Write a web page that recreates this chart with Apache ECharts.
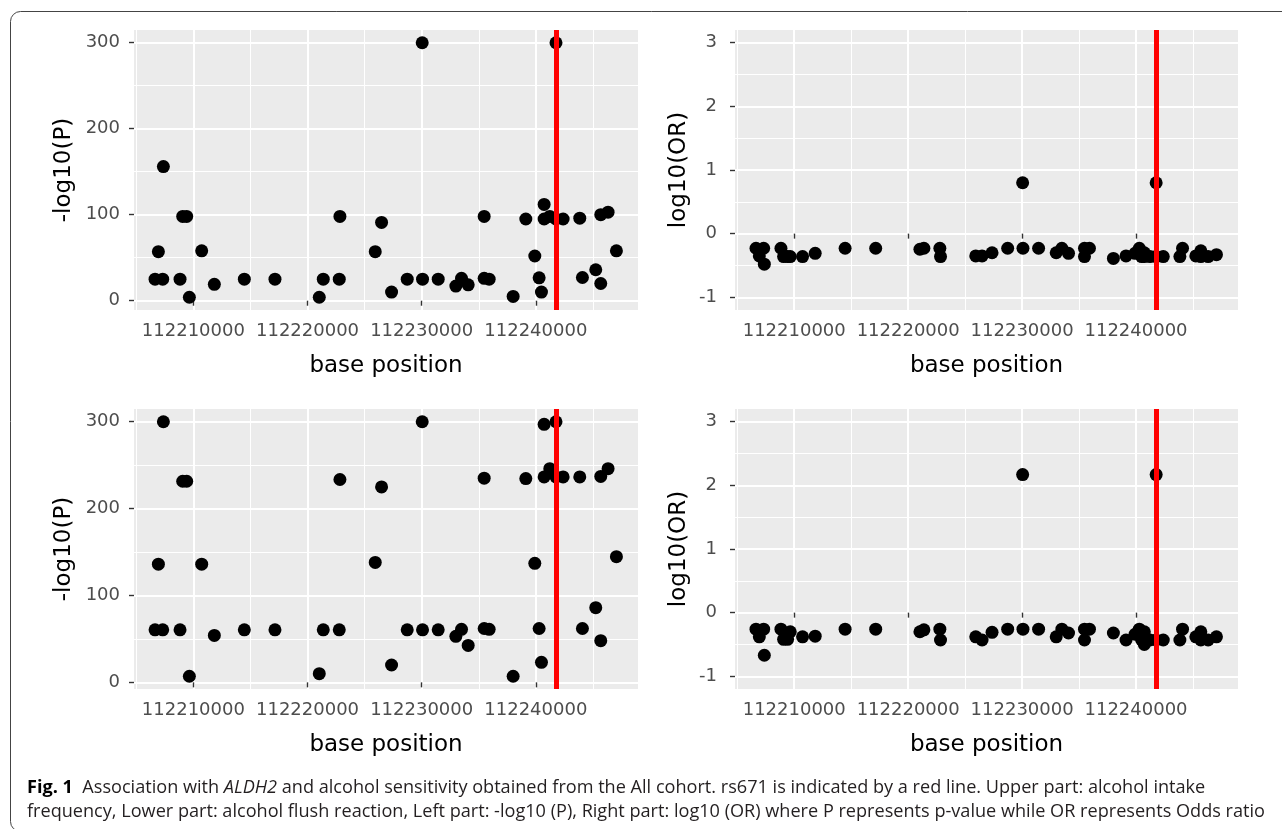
<!DOCTYPE html>
<html>
<head>
<meta charset="utf-8">
<script src="https://cdn.jsdelivr.net/npm/echarts@6/dist/echarts.min.js"></script>
<style>
html,body{margin:0;padding:0;background:#fff;}
#chart{width:1282px;height:829px;}
</style>
</head>
<body>
<div id="chart"></div>
<script>
// ---- data (base positions shared by all four panels) ----
const positions = [
  112206644, 112207315, 112206936, 112207374, 112208833, 112209066, 112209416, 112209650,
  112210730, 112211838, 112214465, 112217149, 112221030, 112221380, 112222839, 112222781,
  112225932, 112226487, 112227362, 112228734, 112230047, 112230076, 112231448, 112232994,
  112233490, 112234074, 112235475, 112235475, 112235912, 112238013, 112239122, 112239910,
  112240289, 112240493, 112240727, 112240727, 112241223, 112241766, 112241766, 112242390,
  112243849, 112244082, 112245249, 112245687, 112245687, 112246329, 112247059
];
// upper part: alcohol intake frequency
const intakeNegLogP = [
  25, 25, 57, 156, 25, 98, 98, 4,
  58, 19, 25, 25, 4, 25, 98, 25,
  57, 91, 10, 25, 300, 25, 25, 17,
  26, 18.5, 98, 26, 25, 5, 95, 52,
  26.6, 10, 112, 95, 98, 300, 95, 95,
  96, 27, 36, 20, 100, 103, 58
];
const intakeLogOR = [
  -0.23, -0.23, -0.35, -0.48, -0.23, -0.36, -0.36, -0.36,
  -0.36, -0.31, -0.23, -0.23, -0.245, -0.23, -0.36, -0.23,
  -0.35, -0.35, -0.30, -0.23, 0.80, -0.23, -0.23, -0.30,
  -0.23, -0.31, -0.36, -0.23, -0.23, -0.39, -0.35, -0.31,
  -0.23, -0.36, -0.36, -0.30, -0.36, 0.80, -0.36, -0.36,
  -0.36, -0.23, -0.35, -0.27, -0.36, -0.36, -0.33
];
// lower part: alcohol flush reaction
const flushNegLogP = [
  60.5, 60.5, 136, 300, 60.5, 231.5, 231.5, 7,
  136, 54, 60.5, 60.5, 10, 60.5, 233.5, 60.5,
  138, 225, 20, 60.5, 300, 60.5, 60.5, 53,
  61, 42.5, 235, 62, 61, 7, 234.6, 137,
  62, 23, 297, 236.5, 246, 300, 236.5, 236.5,
  236.5, 62, 86, 48, 237, 246, 144.7
];
const flushLogOR = [
  -0.26, -0.26, -0.38, -0.67, -0.26, -0.42, -0.42, -0.30,
  -0.38, -0.37, -0.26, -0.26, -0.30, -0.27, -0.43, -0.26,
  -0.38, -0.43, -0.31, -0.26, 2.17, -0.26, -0.26, -0.38,
  -0.26, -0.32, -0.43, -0.26, -0.26, -0.32, -0.43, -0.34,
  -0.26, -0.43, -0.50, -0.30, -0.43, 2.17, -0.43, -0.43,
  -0.43, -0.26, -0.38, -0.30, -0.43, -0.43, -0.38
];
const rs671 = 112241766;
const xTicks = [112210000, 112220000, 112230000, 112240000];
const xMinorTicks = [112205000, 112215000, 112225000, 112235000, 112245000];
const pTicks = [0, 100, 200, 300];
const pMinorTicks = [50, 150, 250];
const orTicks = [-1, 0, 1, 2, 3];
const orMinorTicks = [-0.5, 0.5, 1.5, 2.5];

const captionLine1 = '{b|Fig. 1}  Association with {i|ALDH2} and alcohol sensitivity obtained from the All cohort. rs671 is indicated by a red line. Upper part: alcohol intake';
const captionLine2 = 'frequency, Lower part: alcohol flush reaction, Left part: -log10 (P), Right part: log10 (OR) where P represents p-value while OR represents Odds ratio';

// ---- layout / style ----
const FONT = 'DejaVu Sans';
const X_RANGE = [112204800, 112248950];
const panels = [
  {left: 134, top: 30, width: 504, values: intakeNegLogP, range: [-10.8, 314.8], ticks: pTicks, minor: pMinorTicks, name: '-log10(P)', gap: 58, lm: 14},
  {left: 735, top: 30, width: 503, values: intakeLogOR, range: [-1.2, 3.2], ticks: orTicks, minor: orMinorTicks, name: 'log10(OR)', gap: 44, lm: 18},
  {left: 134, top: 409, width: 504, values: flushNegLogP, range: [-7.65, 314.65], ticks: pTicks, minor: pMinorTicks, name: '-log10(P)', gap: 58, lm: 14},
  {left: 735, top: 409, width: 503, values: flushLogOR, range: [-1.2, 3.2], ticks: orTicks, minor: orMinorTicks, name: 'log10(OR)', gap: 44, lm: 18}
];

const grid = [], xAxis = [], yAxis = [], series = [];
const tickStyle = {color: '#333333', width: 1.4};
const labelStyle = {color: '#4D4D4D', fontSize: 18, fontFamily: FONT};
const nameStyle = {color: '#000', fontSize: 23, fontFamily: FONT};

panels.forEach((p, g) => {
  grid.push({left: p.left, top: p.top, width: p.width, height: 280, show: true,
    backgroundColor: '#EBEBEB', borderWidth: 0, containLabel: false, outerBoundsMode: 'none'});
  // major x
  xAxis.push({gridIndex: g, type: 'value', min: X_RANGE[0], max: X_RANGE[1], position: 'bottom',
    axisLine: {show: false},
    axisTick: {show: true, length: 5, lineStyle: tickStyle, customValues: xTicks},
    axisLabel: {show: true, customValues: xTicks, formatter: v => String(v), margin: 12, ...labelStyle},
    splitLine: {show: true, lineStyle: {color: '#FFFFFF', width: 2}},
    name: 'base position', nameLocation: 'middle', nameGap: 45, nameTextStyle: nameStyle});
  // minor x
  xAxis.push({gridIndex: g, type: 'value', min: X_RANGE[0], max: X_RANGE[1], position: 'bottom',
    axisLine: {show: false}, axisTick: {show: false, customValues: xMinorTicks},
    axisLabel: {show: false, customValues: xMinorTicks},
    splitLine: {show: true, lineStyle: {color: '#FFFFFF', width: 1}}});
  // major y
  yAxis.push({gridIndex: g, type: 'value', min: p.range[0], max: p.range[1], position: 'left',
    axisLine: {show: false},
    axisTick: {show: true, length: 5, lineStyle: tickStyle, customValues: p.ticks},
    axisLabel: {show: true, customValues: p.ticks, formatter: v => String(v), margin: p.lm, ...labelStyle},
    splitLine: {show: true, lineStyle: {color: '#FFFFFF', width: 2}},
    name: p.name, nameLocation: 'middle', nameGap: p.gap, nameTextStyle: nameStyle});
  // minor y
  yAxis.push({gridIndex: g, type: 'value', min: p.range[0], max: p.range[1], position: 'left',
    axisLine: {show: false}, axisTick: {show: false, customValues: p.minor},
    axisLabel: {show: false, customValues: p.minor},
    splitLine: {show: true, lineStyle: {color: '#FFFFFF', width: 1}}});

  series.push({type: 'scatter', xAxisIndex: 2 * g, yAxisIndex: 2 * g,
    data: positions.map((x, i) => [x, p.values[i]]),
    symbol: 'circle', symbolSize: 13, itemStyle: {color: '#000000', opacity: 1},
    silent: true, z: 2});
  series.push({type: 'line', xAxisIndex: 2 * g, yAxisIndex: 2 * g, data: [], z: 3,
    markLine: {silent: true, symbol: ['none', 'none'], animation: false,
      label: {show: false},
      lineStyle: {color: '#FF0000', width: 5, type: 'solid', opacity: 1},
      emphasis: {disabled: true},
      data: [{xAxis: rs671}]}});
});

// caption font size fitted to the reference line width
const cv = document.createElement('canvas').getContext('2d');
cv.font = '16px "Open Sans"';
const capSize = 16 * 1238 / cv.measureText(captionLine2).width;
const capStyle = {fontFamily: 'Open Sans', fontSize: capSize, fill: '#231F20'};

const chart = echarts.init(document.getElementById('chart'), null, {renderer: 'canvas'});
chart.setOption({
  animation: false,
  backgroundColor: '#FFFFFF',
  grid, xAxis, yAxis, series,
  graphic: [
    {type: 'rect', shape: {x: 10.5, y: 11.5, width: 1290, height: 820, r: 10},
      style: {fill: 'none', stroke: '#444', lineWidth: 1}, silent: true, z: -1},
    {type: 'text', x: 27, y: 788, silent: true,
      style: {text: captionLine1, ...capStyle, verticalAlign: 'middle',
        rich: {b: {fontFamily: 'Open Sans', fontWeight: 'bold', fontSize: capSize, fill: '#000'},
               i: {fontFamily: 'Open Sans', fontStyle: 'italic', fontSize: capSize, fill: '#231F20'}}}},
    {type: 'text', x: 27, y: 812, silent: true,
      style: {text: captionLine2, ...capStyle, verticalAlign: 'middle'}}
  ]
});
</script>
</body>
</html>
